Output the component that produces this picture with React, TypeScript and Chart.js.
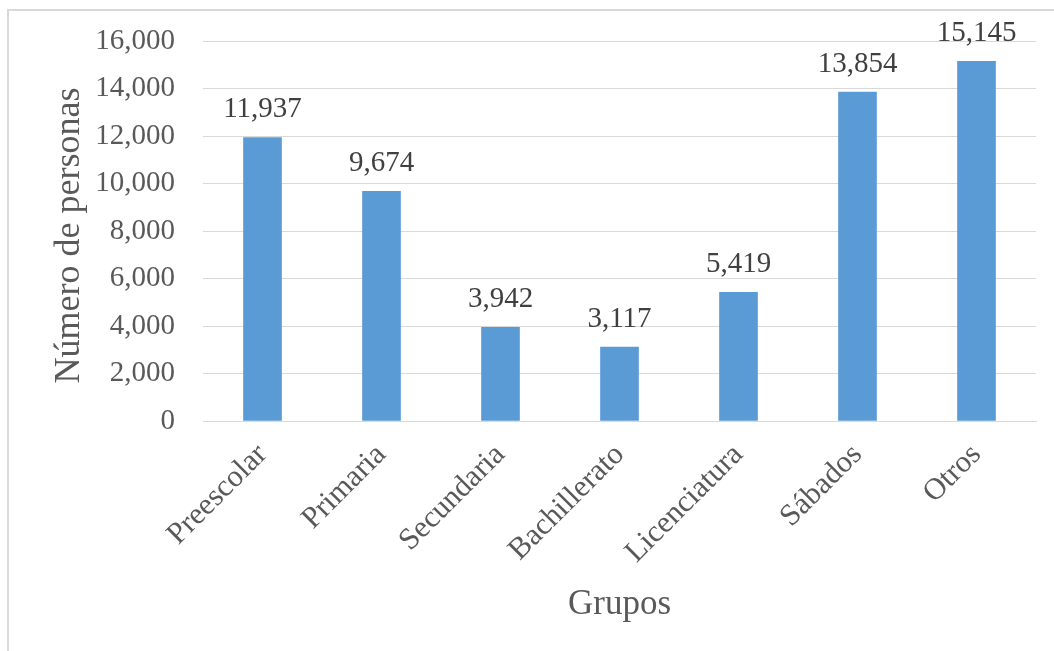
import React, { useEffect, useRef } from "react";
import { Chart, registerables } from "chart.js";

Chart.register(...registerables);

const categories = ["Preescolar", "Primaria", "Secundaria", "Bachillerato", "Licenciatura", "Sábados", "Otros"];
const values = [11937, 9674, 3942, 3117, 5419, 13854, 15145];
const yTitle = "Número de personas ";
const xTitle = "Grupos";

const FONT = "'Liberation Serif', 'Times New Roman', serif";

const fmt = (v: number) => v.toLocaleString("en-US");

const dataLabelPlugin = {
  id: "valueLabels",
  afterDatasetsDraw(chart: any) {
    const { ctx } = chart;
    const meta = chart.getDatasetMeta(0);
    ctx.save();
    ctx.font = `29px ${FONT}`;
    ctx.fillStyle = "#404040";
    ctx.textAlign = "center";
    ctx.textBaseline = "alphabetic";
    meta.data.forEach((bar: any, i: number) => {
      const v = chart.data.datasets[0].data[i] as number;
      ctx.fillText(fmt(v), bar.x, bar.y - 20);
    });
    ctx.restore();
  },
};

export default function App() {
  const ref = useRef<HTMLCanvasElement>(null);
  useEffect(() => {
    if (!ref.current) return;
    const chart = new Chart(ref.current, {
      type: "bar",
      data: {
        labels: categories,
        datasets: [
          {
            data: values,
            backgroundColor: "#5B9BD5",
            borderWidth: 0,
            barThickness: 38,
          },
        ],
      },
      options: {
        animation: false,
        responsive: false,
        maintainAspectRatio: false,
        layout: { padding: { top: 41, right: 18, left: 0, bottom: 0 } },
        plugins: { legend: { display: false }, tooltip: { enabled: false } },
        scales: {
          x: {
            grid: { display: false, drawTicks: false },
            border: { display: true, color: "#d9d9d9", width: 1 },
            ticks: {
              autoSkip: false,
              maxRotation: 45,
              minRotation: 45,
              padding: 16,
              color: "#595959",
              font: { family: FONT, size: 30.5 },
            },
            title: {
              display: true,
              text: xTitle,
              color: "#595959",
              font: { family: FONT, size: 35 },
              padding: { top: 0, bottom: 25 },
            },
            afterFit: (s: any) => {
              s.height = 230;
              s.paddingLeft = 0;
              s.paddingRight = 0;
            },
          },
          y: {
            min: 0,
            max: 16000,
            grid: { color: "#d9d9d9", lineWidth: 1, drawTicks: false },
            border: { display: false },
            ticks: {
              stepSize: 2000,
              padding: 28,
              color: "#595959",
              font: { family: FONT, size: 29 },
              callback: (v: any) => fmt(Number(v)),
            },
            title: {
              display: true,
              text: yTitle,
              color: "#595959",
              font: { family: FONT, size: 36 },
              padding: { top: 48, bottom: 0 },
            },
            afterFit: (s: any) => {
              s.width = 203;
              s.paddingTop = 0;
              s.paddingBottom = 0;
            },
          },
        },
      },
      plugins: [dataLabelPlugin],
    });
    return () => chart.destroy();
  }, []);

  return (
    <div style={{ position: "absolute", left: 0, top: 0, width: 1054, height: 651, background: "#fff", overflow: "hidden" }}>
      <div
        style={{
          position: "absolute",
          left: 7,
          top: 9,
          width: 1100,
          height: 700,
          borderLeft: "2px solid #d9d9d9",
          borderTop: "2px solid #d9d9d9",
        }}
      />
      <canvas ref={ref} width={1054} height={651} style={{ position: "absolute", left: 0, top: 0, width: 1054, height: 651 }} />
    </div>
  );
}
